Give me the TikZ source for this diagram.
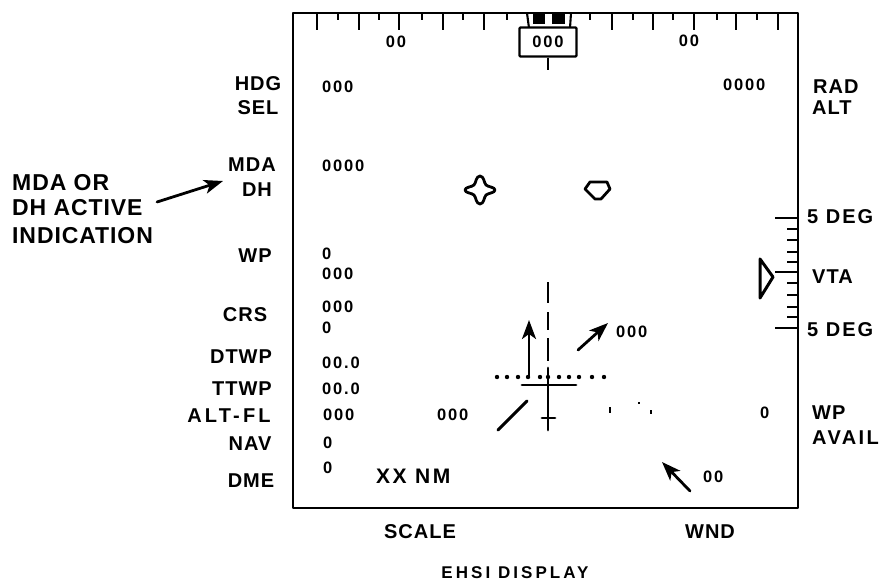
\documentclass[tikz,border=0pt]{standalone}
\usepackage{fontspec}
\setmainfont{Liberation Sans}
\usetikzlibrary{arrows.meta}
\tikzset{
  frameline/.style={line width=2.5pt,line cap=round,line join=round},
  tickline/.style={line width=2.1pt},
  sym/.style={line width=2.8pt,line join=round,line cap=round},
  lab/.style={font=\fontsize{20}{22}\selectfont\bfseries\addfontfeature{LetterSpace=5},inner sep=0pt},
  big/.style={font=\fontsize{23}{26}\selectfont\bfseries\addfontfeature{LetterSpace=4},inner sep=0pt,anchor=west},
  val/.style={font=\fontsize{16.5}{18}\selectfont\bfseries\addfontfeature{LetterSpace=11},inner sep=0pt},
  vall/.style={val,anchor=west},
  arr/.style={sym,-{Stealth[length=19pt,width=14pt,inset=5pt]}}
}
\begin{document}
\begin{tikzpicture}[x=1pt,y=-1pt]
\useasboundingbox (0,0) rectangle (883,584);
% frame
\draw[frameline] (293,13) rectangle (798,508);
% top scale
\foreach \x in {317,359,399,443,484,612,653,694,736,778} \draw[tickline] (\x,13) -- (\x,30);
\foreach \x in {338,379,422,463,507,590,633,673,717,757} \draw[tickline] (\x,13) -- (\x,20);
% heading pointer
\fill (533,13) rectangle (545,24);
\fill (552,13) rectangle (565,24);
\draw[tickline] (527,13) -- (529,28);
\draw[tickline] (571,13) -- (570,28);
\node[draw,line width=2.4pt,rounded corners=1pt,minimum width=57pt,minimum height=29pt,inner sep=0pt,val,fill=white] (hdgbox) at (548,42) {000};
\coordinate (stem) at (548,70);
\draw[tickline] (hdgbox.south) -- (stem);
\node[val] (scL) at (396,42) {00};
\node[val] (scR) at (689,41) {00};
% left labels
\node[lab] (hdg) at (258,84) {HDG};
\node[lab] (sel) at (258,108) {SEL};
\node[lab] (mda) at (252,165) {MDA};
\node[lab] (dh) at (257,190) {DH};
\node[lab] (wp) at (255,256) {WP};
\node[lab] (crs) at (245,315) {CRS};
\node[lab] (dtwp) at (241,357) {DTWP};
\node[lab] (ttwp) at (242,389) {TTWP};
\node[lab,font=\fontsize{20}{22}\selectfont\bfseries\addfontfeature{LetterSpace=16}] (altfl) at (229,416) {ALT-FL};
\node[lab] (nav) at (250,444) {NAV};
\node[lab] (dme) at (251,481) {DME};
% left values
\node[vall] (v1) at (322,87) {000};
\node[vall] (v2) at (322,166) {0000};
\node[vall] (v3) at (322,254) {0};
\node[vall] (v4) at (322,274) {000};
\node[vall] (v5) at (322,307) {000};
\node[vall] (v6) at (322,328) {0};
\node[vall] (v7) at (322,363) {00.0};
\node[vall] (v8) at (322,389) {00.0};
\node[vall] (v9) at (323,415) {000};
\node[vall] (v10) at (323,443) {0};
\node[vall] (v11) at (323,468) {0};
\node[vall] (v12) at (437,415) {000};
\node[anchor=west,inner sep=0pt,font=\fontsize{21}{24}\selectfont\bfseries\addfontfeature{LetterSpace=12}] (xx) at (376,476) {XX NM};
% right values
\node[vall] (v13) at (723,85) {0000};
\node[vall] (v14) at (616,332) {000};
\node[vall] (v15) at (760,413) {0};
\node[vall] (v16) at (703,477) {00};
% right labels
\node[lab,anchor=west] (rad) at (813,87) {RAD};
\node[lab,anchor=west] (alt) at (812,108) {ALT};
\node[lab,anchor=west,font=\fontsize{20}{22}\selectfont\bfseries\addfontfeature{LetterSpace=10}] (deg1) at (807,217) {5 DEG};
\node[lab,anchor=west] (vta) at (812,277) {VTA};
\node[lab,anchor=west,font=\fontsize{20}{22}\selectfont\bfseries\addfontfeature{LetterSpace=10}] (deg2) at (807,330) {5 DEG};
\node[lab,anchor=west] (wpa) at (812,413) {WP};
\node[lab,anchor=west,font=\fontsize{20}{22}\selectfont\bfseries\addfontfeature{LetterSpace=12}] (avail) at (812,438) {AVAIL};
% bottom labels
\node[lab] (scale) at (420,532) {SCALE};
\node[lab] (wnd) at (710,532) {WND};
\node[lab,font=\fontsize{17}{20}\selectfont\bfseries\addfontfeature{LetterSpace=18}] (title) at (515,573) {EHSI DISPLAY};
% callout
\node[big] (c1) at (12,183) {MDA OR};
\node[big] (c2) at (12,208) {DH ACTIVE};
\node[big] (c3) at (12,236) {INDICATION};
\coordinate (cs) at (157,202);
\coordinate (ce) at (223,181);
\draw[arr] (cs) -- (ce);
% cross symbol
\draw[sym] (480,176) .. controls (484,176) and (484,183) .. (486,185)
  .. controls (488,187) and (495,187) .. (495,190)
  .. controls (495,193) and (488,193) .. (486,195)
  .. controls (484,197) and (484,204) .. (480,204)
  .. controls (476,204) and (476,197) .. (474,195)
  .. controls (472,193) and (465,193) .. (465,190)
  .. controls (465,187) and (472,187) .. (474,185)
  .. controls (476,183) and (476,176) .. (480,176) -- cycle;
% pentagon symbol
\draw[sym] (590,182) -- (607,182) -- (610,189) -- (601,199) -- (595,199) -- (585,189) -- cycle;
% VTA scale
\foreach \y in {218,272,328} \draw[tickline] (775,\y) -- (798,\y);
\foreach \y in {229,240,252,262,283,295,307,317} \draw[tickline] (787,\y) -- (798,\y);
\draw[line width=3pt,line join=round,line cap=round] (760,259) -- (773,277) -- (760,298) -- cycle;
% centre symbols
\draw[line width=2.8pt] (548,282) -- (548,303) (548,312) -- (548,330) (548,338) -- (548,361);
\draw[line width=2.8pt,line cap=round] (548,368) -- (548,430);
\draw[line width=2.8pt,line cap=round] (522,385) -- (576,385);
\draw[line width=2.8pt,line cap=round] (542,418) -- (555,418);
\foreach \x in {497,507,518,528,540,548,559,569,579,592,604} \fill (\x,377) circle (2.2pt);
\coordinate (ua) at (529,377); \coordinate (ub) at (529,320);
\draw[arr] (ua) -- (ub);
\coordinate (na) at (578,350); \coordinate (nb) at (608,323);
\draw[arr] (na) -- (nb);
\coordinate (da) at (498,430); \coordinate (db) at (527,401);
\draw[sym,line width=3pt] (da) -- (db);
\coordinate (wa) at (690,491); \coordinate (wb) at (662,462);
\draw[arr] (wa) -- (wb);
% specks
\fill (609,407) rectangle (611,413);
\fill (638,402) rectangle (639.5,404);
\fill (650,410) rectangle (651.5,414);
\end{tikzpicture}
\end{document}
